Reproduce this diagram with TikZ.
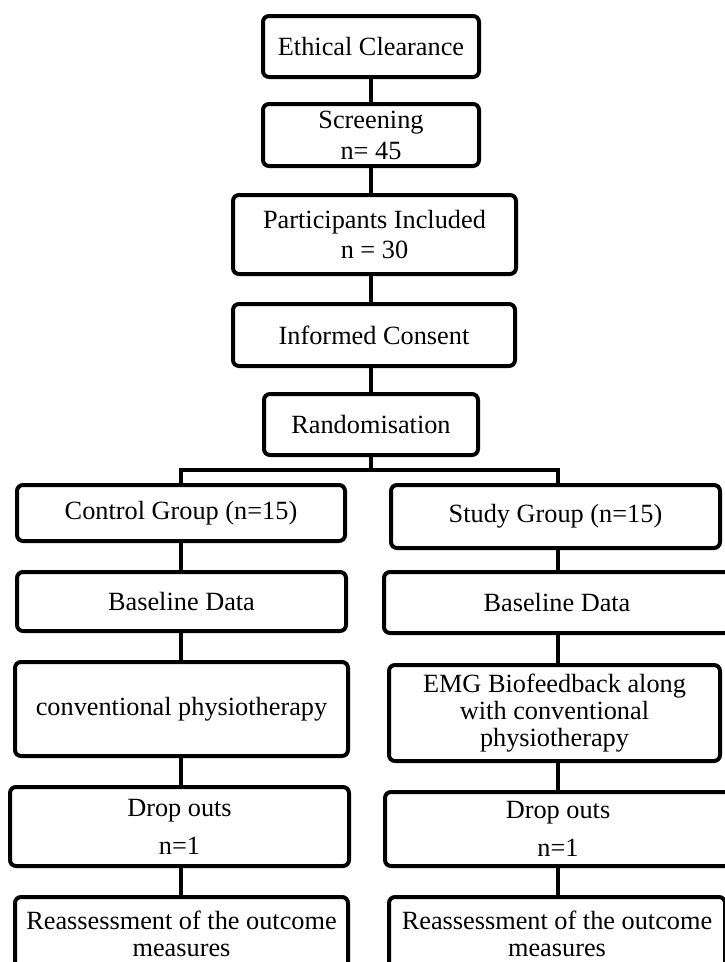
\documentclass[tikz,border=0pt]{standalone}
\usepackage{fontspec}
\setmainfont{Liberation Serif}
\usetikzlibrary{
  positioning,
  calc
}
\tikzset{
  flowBox/.style={
    rectangle,
    draw,
    rounded corners=6pt,
    line width=4pt,
    align=center,
    inner sep=2pt,
    fill=white,
    text=black,
    font=\fontsize{26.3}{27}\selectfont
  }
}
\tikzset{
  flowLine/.style={
    line width=4pt
  }
}

\begin{document}
\begin{tikzpicture}[x=1pt, y=-1pt]
    \useasboundingbox (0,0) rectangle (724,962);
    % main column
    \node[flowBox, minimum width=216, minimum height=61] (ethics) at (371,46.5) {Ethical Clearance};
    \node[flowBox, minimum width=216, minimum height=62] (screening) at (371,135) {Screening\\[4pt] n= 45};
    \node[flowBox, minimum width=283, minimum height=79] (included) at (374.5,234.5) {Participants Included\\[3pt] n = 30};
    \node[flowBox, minimum width=282, minimum height=62] (consent) at (374,335) {Informed Consent};
    \node[flowBox, minimum width=214, minimum height=61] (random) at (371,424.5) {Randomisation};
    % control group
    \node[flowBox, minimum width=328, minimum height=56] (ctrlGroup) at (181,513) {Control Group (n=15)};
    \node[flowBox, minimum width=329, minimum height=59] (ctrlBase) at (181.5,601.5) {Baseline Data};
    \node[flowBox, minimum width=333, minimum height=94] (ctrlTherapy) at (181.5,709) {conventional physiotherapy};
    \node[flowBox, minimum width=339, minimum height=79] (ctrlDrop) at (179.5,826.5) {Drop outs\\[11pt] n=1};
    \node[flowBox, minimum width=333, minimum height=73] (ctrlReassess) at (181.5,933.5) {Reassessment of the outcome\\ measures};
    % study group
    \node[flowBox, minimum width=329, minimum height=63] (studyGroup) at (555.5,516.5) {Study Group (n=15)};
    \node[flowBox, minimum width=346, minimum height=61] (studyBase) at (557,602.5) {Baseline Data};
    \node[flowBox, minimum width=331, minimum height=96] (studyTherapy) at (554.5,713) {EMG Biofeedback along\\ with conventional\\ physiotherapy};
    \node[flowBox, minimum width=346, minimum height=74] (studyDrop) at (558,829) {Drop outs\\[11pt] n=1};
    \node[flowBox, minimum width=336, minimum height=73] (studyReassess) at (557,933.5) {Reassessment of the outcome\\ measures};

    \coordinate (colL) at (181,0);
    \coordinate (colR) at (558,0);
    \coordinate (split) at ($(random.south)+(0,13)$);

    \draw[flowLine] (ethics) -- (screening);
    \draw[flowLine] (screening) -- (screening |- included.north);
    \draw[flowLine] (included.south -| screening) -- (consent.north -| screening);
    \draw[flowLine] (consent.south -| random) -- (random);
    \draw[flowLine] (random) -- (split);
    \draw[flowLine] (ctrlGroup.north -| colL) |- (split) -| (studyGroup.north -| colR);
    \foreach \a/\b in {ctrlGroup/ctrlBase, ctrlBase/ctrlTherapy, ctrlTherapy/ctrlDrop, ctrlDrop/ctrlReassess}
      \draw[flowLine] (\a.south -| colL) -- (\b.north -| colL);
    \foreach \a/\b in {studyGroup/studyBase, studyBase/studyTherapy, studyTherapy/studyDrop, studyDrop/studyReassess}
      \draw[flowLine] (\a.south -| colR) -- (\b.north -| colR);
\end{tikzpicture}
\end{document}
